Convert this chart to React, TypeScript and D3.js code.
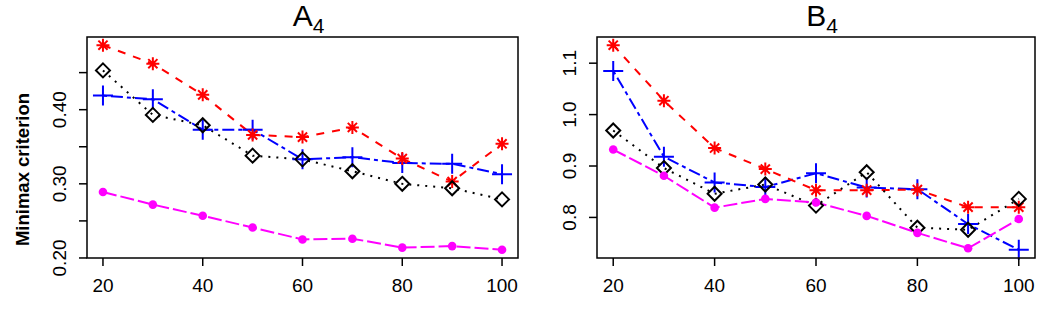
import { useEffect, useRef } from 'react'
import * as d3 from 'd3'

const sizes = [20, 30, 40, 50, 60, 70, 80, 90, 100]
const xTicks = [20, 40, 60, 80, 100]

// panel A4
const a4Red = [0.487, 0.462, 0.420, 0.366, 0.363, 0.376, 0.334, 0.303, 0.354]
const a4Black = [0.453, 0.393, 0.379, 0.338, 0.333, 0.317, 0.300, 0.294, 0.279]
const a4Blue = [0.419, 0.414, 0.373, 0.373, 0.333, 0.336, 0.328, 0.327, 0.313]
const a4Magenta = [0.289, 0.272, 0.257, 0.241, 0.225, 0.226, 0.214, 0.216, 0.211]
const a4Ticks = [0.20, 0.25, 0.30, 0.35, 0.40, 0.45]
const a4Labels = ['0.20', '', '0.30', '', '0.40', '']

// panel B4
const b4Red = [1.135, 1.027, 0.935, 0.894, 0.853, 0.853, 0.854, 0.820, 0.820]
const b4Black = [0.969, 0.896, 0.846, 0.864, 0.823, 0.888, 0.780, 0.776, 0.836]
const b4Blue = [1.085, 0.918, 0.868, 0.859, 0.886, 0.858, 0.855, 0.787, 0.737]
const b4Magenta = [0.932, 0.881, 0.819, 0.836, 0.829, 0.803, 0.770, 0.740, 0.797]
const b4Ticks = [0.8, 0.9, 1.0, 1.1]
const b4Labels = ['0.8', '0.9', '1.0', '1.1']

type Series = { values: number[]; color: string; dash: string; pch: string }

const panels = [
  {
    title: 'A', sub: '4', left: 87, right: 518,
    ticks: a4Ticks, labels: a4Labels, ylab: 'Minimax criterion',
    series: [
      { values: a4Blue, color: '#0000ff', dash: '4,4,12,4', pch: 'plus' },
      { values: a4Red, color: '#ff0000', dash: '8,8', pch: 'star' },
      { values: a4Black, color: '#000000', dash: '2,6', pch: 'diamond' },
      { values: a4Magenta, color: '#ff00ff', dash: '14,4', pch: 'dot' },
    ] as Series[],
  },
  {
    title: 'B', sub: '4', left: 597, right: 1035,
    ticks: b4Ticks, labels: b4Labels, ylab: '',
    series: [
      { values: b4Blue, color: '#0000ff', dash: '4,4,12,4', pch: 'plus' },
      { values: b4Red, color: '#ff0000', dash: '8,8', pch: 'star' },
      { values: b4Black, color: '#000000', dash: '2,6', pch: 'diamond' },
      { values: b4Magenta, color: '#ff00ff', dash: '14,4', pch: 'dot' },
    ] as Series[],
  },
]

const top = 37
const bottom = 258
const font = 'Liberation Sans, Arial, sans-serif'

// R style 4% range padding
const pad = (ext: [number, number]) => {
  const d = (ext[1] - ext[0]) * 0.04
  return [ext[0] - d, ext[1] + d]
}

export default function App() {
  const svgRef = useRef<SVGSVGElement>(null)

  useEffect(() => {
    if (!svgRef.current) return
    const svg = d3.select(svgRef.current)
    svg.selectAll('*').remove()

    panels.forEach(p => {
      const all = p.series.flatMap(s => s.values)
      const x = d3.scaleLinear().domain(pad(d3.extent(sizes) as [number, number])).range([p.left, p.right])
      const y = d3.scaleLinear().domain(pad(d3.extent(all) as [number, number])).range([bottom, top])
      const g = svg.append('g')

      // lines
      p.series.forEach(s => {
        const line = d3.line<number>().x((_, i) => x(sizes[i])).y(d => y(d))
        g.append('path')
          .attr('d', line(s.values))
          .attr('fill', 'none')
          .attr('stroke', s.color)
          .attr('stroke-width', 2)
          .attr('stroke-dasharray', s.dash)
      })

      // markers
      p.series.forEach(s => {
        s.values.forEach((v, i) => {
          const cx = x(sizes[i])
          const cy = y(v)
          const m = g.append('g').attr('transform', `translate(${cx},${cy})`)
          if (s.pch === 'dot') {
            m.append('circle').attr('r', 4.3).attr('fill', s.color)
          } else if (s.pch === 'diamond') {
            m.append('path').attr('d', 'M0,-7L7,0L0,7L-7,0Z')
              .attr('fill', 'none').attr('stroke', s.color).attr('stroke-width', 2)
          } else if (s.pch === 'plus') {
            m.append('path').attr('d', 'M-10,0H10M0,-10V10')
              .attr('stroke', s.color).attr('stroke-width', 2)
          } else {
            const r = 6.5
            const q = r * 0.707
            m.append('path').attr('d', `M-${r},0H${r}M0,-${r}V${r}M-${q},-${q}L${q},${q}M-${q},${q}L${q},-${q}`)
              .attr('stroke', s.color).attr('stroke-width', 2)
          }
        })
      })

      // box
      g.append('rect')
        .attr('x', p.left).attr('y', top)
        .attr('width', p.right - p.left).attr('height', bottom - top)
        .attr('fill', 'none').attr('stroke', '#000').attr('stroke-width', 1.5)

      // x axis ticks
      xTicks.forEach(t => {
        g.append('line')
          .attr('x1', x(t)).attr('x2', x(t)).attr('y1', bottom).attr('y2', bottom + 8)
          .attr('stroke', '#000').attr('stroke-width', 1.5)
        g.append('text')
          .attr('x', x(t)).attr('y', 292)
          .attr('text-anchor', 'middle')
          .attr('font-family', font).attr('font-size', 19)
          .text(t)
      })

      // y axis ticks
      p.ticks.forEach((t, i) => {
        g.append('line')
          .attr('x1', p.left - 8).attr('x2', p.left).attr('y1', y(t)).attr('y2', y(t))
          .attr('stroke', '#000').attr('stroke-width', 1.5)
        if (p.labels[i]) {
          g.append('text')
            .attr('transform', `translate(${p.left - 21},${y(t)}) rotate(-90)`)
            .attr('text-anchor', 'middle')
            .attr('font-family', font).attr('font-size', 19)
            .text(p.labels[i])
        }
      })

      // title
      const title = g.append('text')
        .attr('x', (p.left + p.right) / 2 + 6).attr('y', 26)
        .attr('text-anchor', 'middle')
        .attr('font-family', font).attr('font-size', 30)
      title.append('tspan').text(p.title)
      title.append('tspan').attr('font-size', 21).attr('dy', 7).text(p.sub)

      if (p.ylab) {
        g.append('text')
          .attr('transform', `translate(29,${(top + bottom) / 2 + 22}) rotate(-90)`)
          .attr('text-anchor', 'middle')
          .attr('font-family', font).attr('font-size', 18.5).attr('font-weight', 'bold')
          .text(p.ylab)
      }
    })
  }, [])

  return (
    <svg ref={svgRef} width={1061} height={314}
      style={{ position: 'absolute', left: 0, top: 0, background: '#fff' }} />
  )
}
